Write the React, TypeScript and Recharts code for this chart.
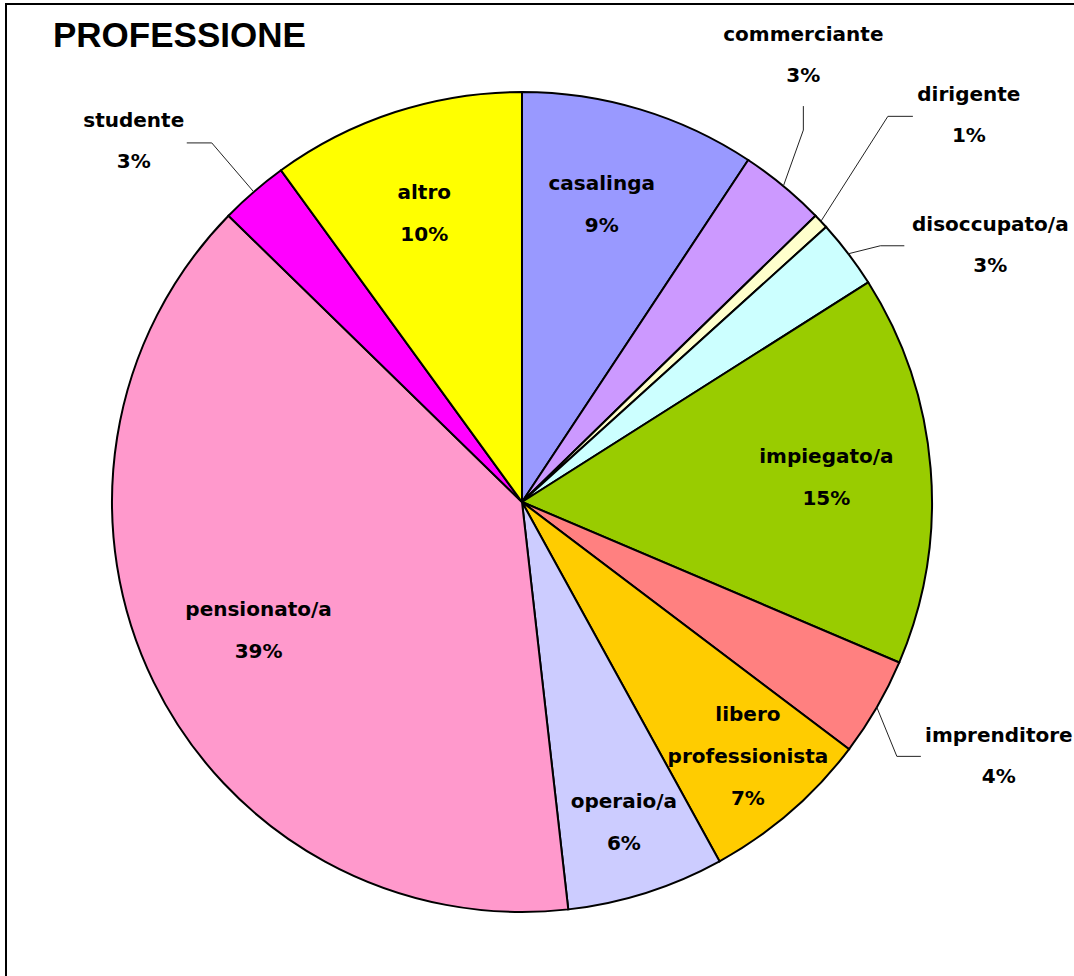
import React from 'react';
import { PieChart, Pie, Cell } from 'recharts';

const categories = [
  'casalinga',
  'commerciante',
  'dirigente',
  'disoccupato/a',
  'impiegato/a',
  'imprenditore',
  'libero professionista',
  'operaio/a',
  'pensionato/a',
  'studente',
  'altro',
];
const values = [9.3, 3.4, 0.6, 2.7, 15.4, 3.9, 6.7, 6.2, 39.1, 2.7, 10.0];
const colors = [
  '#9999FF',
  '#CC99FF',
  '#FFFFCC',
  '#CCFFFF',
  '#99CC00',
  '#FF8080',
  '#FFCC00',
  '#CCCCFF',
  '#FF99CC',
  '#FF00FF',
  '#FFFF00',
];
const title = 'PROFESSIONE';

const data = categories.map((c, i) => ({ name: c, value: values[i] }));

type Layout =
  | { type: 'inside'; f: number; dx?: number }
  | { type: 'outside'; s1: [number, number]; s2: [number, number]; t: [number, number] };

const labelLayout: Record<string, Layout> = {
  casalinga: { type: 'inside', f: 0.76, dx: -10 },
  commerciante: { type: 'outside', s1: [20, -56], s2: [0, -24], t: [0, -65] },
  dirigente: { type: 'outside', s1: [67, -105], s2: [25, 0], t: [56, -15] },
  'disoccupato/a': { type: 'outside', s1: [32, -8], s2: [24, 0], t: [86, -15] },
  'impiegato/a': { type: 'inside', f: 0.74, dx: 2 },
  imprenditore: { type: 'outside', s1: [20, 49], s2: [24, 0], t: [78, -14] },
  'libero professionista': { type: 'inside', f: 0.82, dx: 6 },
  'operaio/a': { type: 'inside', f: 0.82 },
  'pensionato/a': { type: 'inside', f: 0.71, dx: -2 },
  studente: { type: 'outside', s1: [-42, -49], s2: [-25, 0], t: [-53, -16] },
  altro: { type: 'inside', f: 0.74, dx: -4 },
};

const FONT = "'Comic Sans MS', 'DejaVu Sans', sans-serif";
const RAD = Math.PI / 180;
const LINE = 42;

const renderLabel = (props: any) => {
  const { cx, cy, midAngle, outerRadius, percent, index } = props;
  const name = categories[index];
  const layout = labelLayout[name];
  const pct = Math.round(percent * 100) + '%';
  const textProps = {
    fontFamily: FONT,
    fontWeight: 'bold' as const,
    fontSize: 20,
    fill: '#000',
    textAnchor: 'middle' as const,
  };
  if (layout.type === 'inside') {
    const r = outerRadius * layout.f;
    const x = cx + r * Math.cos(-midAngle * RAD) + (layout.dx || 0);
    const y = cy + r * Math.sin(-midAngle * RAD);
    const lines = [...name.split(' '), pct];
    const first = y + 7 - ((lines.length - 1) * LINE) / 2;
    return (
      <g key={`lbl-${index}`}>
        {lines.map((l, i) => (
          <text key={i} x={x} y={first + i * LINE} {...textProps}>
            {l}
          </text>
        ))}
      </g>
    );
  }
  const ex = cx + outerRadius * Math.cos(-midAngle * RAD);
  const ey = cy + outerRadius * Math.sin(-midAngle * RAD);
  const p1x = ex + layout.s1[0];
  const p1y = ey + layout.s1[1];
  const p2x = p1x + layout.s2[0];
  const p2y = p1y + layout.s2[1];
  const tx = p2x + layout.t[0];
  const ty = p2y + layout.t[1];
  return (
    <g key={`lbl-${index}`}>
      <polyline
        points={`${ex},${ey} ${p1x},${p1y} ${p2x},${p2y}`}
        fill="none"
        stroke="#222"
        strokeWidth={1}
      />
      <text x={tx} y={ty} {...textProps}>
        {name}
      </text>
      <text x={tx} y={ty + 41} {...textProps}>
        {pct}
      </text>
    </g>
  );
};

export default function App() {
  return (
    <div
      style={{
        position: 'absolute',
        left: 0,
        top: 0,
        width: 1074,
        height: 976,
        overflow: 'hidden',
        background: '#fff',
      }}
    >
      <div
        style={{
          position: 'absolute',
          left: 5,
          top: 3,
          width: 1200,
          height: 1200,
          border: '2px solid #000',
        }}
      />
      <svg
        width={1074}
        height={976}
        style={{ position: 'absolute', left: 0, top: 0 }}
      >
        <text
          x={53}
          y={47}
          fontFamily="'Liberation Sans', Arial, sans-serif"
          fontWeight="bold"
          fontSize={35}
          fill="#000"
        >
          {title}
        </text>
      </svg>
      <div style={{ position: 'absolute', left: 0, top: 0 }}>
        <PieChart width={1074} height={976} margin={{ top: 0, right: 0, bottom: 0, left: 0 }}>
          <Pie
            data={data}
            dataKey="value"
            nameKey="name"
            cx={522}
            cy={502}
            outerRadius={410}
            startAngle={90}
            endAngle={-270}
            label={renderLabel}
            labelLine={false}
            isAnimationActive={false}
          >
            {data.map((d, i) => (
              <Cell key={d.name} fill={colors[i]} stroke="#000" strokeWidth={2} />
            ))}
          </Pie>
        </PieChart>
      </div>
    </div>
  );
}
